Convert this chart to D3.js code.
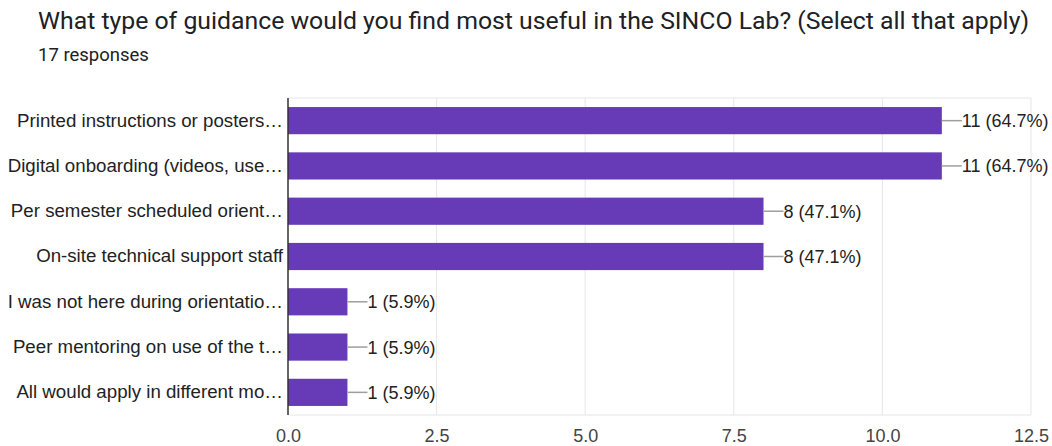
<!DOCTYPE html>
<html>
<head>
<meta charset="utf-8">
<script src="https://cdn.jsdelivr.net/npm/d3@7"></script>
<style>
  html, body { margin: 0; padding: 0; background: #fff; }
  svg { display: block; }
</style>
</head>
<body>
<svg id="chart" width="1052" height="446"></svg>
<script>
// Survey answers, counts and percentages of the 17 respondents
const categories = [
  "Printed instructions or posters…",
  "Digital onboarding (videos, use…",
  "Per semester scheduled orient…",
  "On-site technical support staff",
  "I was not here during orientatio…",
  "Peer mentoring on use of the t…",
  "All would apply in different mo…"
];
const counts = [11, 11, 8, 8, 1, 1, 1];
const percents = ["64.7%", "64.7%", "47.1%", "47.1%", "5.9%", "5.9%", "5.9%"];
const tickValues = [0, 2.5, 5, 7.5, 10, 12.5];

const title = "What type of guidance would you find most useful in the SINCO Lab? (Select all that apply)";
const subtitle = "17 responses";

const svg = d3.select("#chart");
const plot = { left: 288, right: 1031, top: 98, bottom: 415 };
const sans = "Arial, 'Liberation Sans', sans-serif";

svg.append("text")
  .attr("x", 38).attr("y", 29)
  .attr("font-family", "Roboto, sans-serif")
  .attr("font-size", 24.8)
  .attr("fill", "#202124")
  .text(title);

svg.append("text")
  .attr("x", 38).attr("y", 61)
  .attr("font-family", "Roboto, sans-serif")
  .attr("font-size", 18.5)
  .attr("fill", "#202124")
  .text(subtitle);

const x = d3.scaleLinear().domain([0, 12.5]).range([plot.left, plot.right]);
const y = d3.scaleBand().domain(categories).range([plot.top, plot.bottom]).paddingInner(0.4).paddingOuter(0.2);

const rows = categories.map((c, i) => ({ cat: c, n: counts[i], pct: percents[i] }));

// vertical gridlines
svg.append("g").selectAll("line").data(tickValues.filter(v => v > 0)).join("line")
  .attr("x1", d => x(d)).attr("x2", d => x(d))
  .attr("y1", plot.top).attr("y2", plot.bottom)
  .attr("stroke", "#e6e6e6").attr("stroke-width", 1);

// top and bottom frame lines
svg.append("g").selectAll("line").data([plot.top, plot.bottom]).join("line")
  .attr("x1", plot.left).attr("x2", plot.right)
  .attr("y1", d => d).attr("y2", d => d)
  .attr("stroke", "#e6e6e6").attr("stroke-width", 1);

// bars
svg.append("g").selectAll("rect").data(rows).join("rect")
  .attr("x", x(0))
  .attr("y", d => y(d.cat))
  .attr("width", d => x(d.n) - x(0))
  .attr("height", y.bandwidth())
  .attr("fill", "#673ab7");

// leader lines from bar end to value label
svg.append("g").selectAll("line").data(rows).join("line")
  .attr("x1", d => x(d.n)).attr("x2", d => x(d.n) + 20)
  .attr("y1", d => y(d.cat) + y.bandwidth() / 2)
  .attr("y2", d => y(d.cat) + y.bandwidth() / 2)
  .attr("stroke", "#9e9e9e").attr("stroke-width", 1.5);

svg.append("g").selectAll("text").data(rows).join("text")
  .attr("x", d => x(d.n) + 20)
  .attr("y", d => y(d.cat) + y.bandwidth() / 2)
  .attr("dy", "0.36em")
  .attr("font-family", sans)
  .attr("font-size", 18)
  .attr("fill", "#222")
  .text(d => `${d.n} (${d.pct})`);

// category labels
const yAxis = svg.append("g")
  .attr("transform", `translate(${plot.left},0)`)
  .call(d3.axisLeft(y).tickSize(0).tickPadding(5));
yAxis.select(".domain").remove();
yAxis.selectAll("text")
  .attr("font-family", sans)
  .attr("font-size", 18.7)
  .attr("fill", "#222");

// baseline
svg.append("line")
  .attr("x1", plot.left).attr("x2", plot.left)
  .attr("y1", plot.top).attr("y2", plot.bottom)
  .attr("stroke", "#333").attr("stroke-width", 1.5);

// x axis tick labels
const xAxis = svg.append("g")
  .attr("transform", `translate(0,${plot.bottom})`)
  .call(d3.axisBottom(x).tickValues(tickValues).tickFormat(d3.format(".1f")).tickSize(0).tickPadding(14));
xAxis.select(".domain").remove();
xAxis.selectAll("text")
  .attr("font-family", sans)
  .attr("font-size", 18)
  .attr("fill", "#444");
</script>
</body>
</html>
